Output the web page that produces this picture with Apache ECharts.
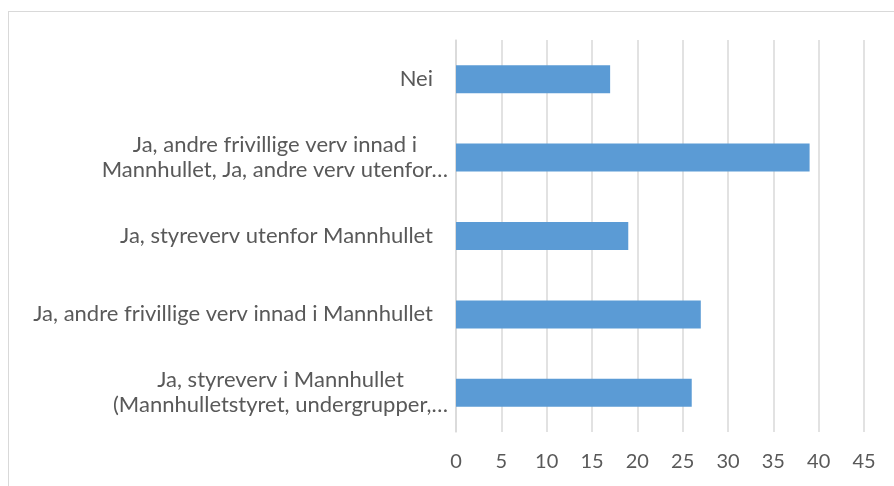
<!DOCTYPE html>
<html>
<head>
<meta charset="utf-8">
<script src="https://cdn.jsdelivr.net/npm/echarts@6/dist/echarts.min.js"></script>
<style>
  html, body { margin: 0; padding: 0; background: #fff; }
  .frame { position: absolute; left: 8px; top: 11px; width: 900px; height: 490px;
           border-top: 1px solid #d9d9d9; border-left: 1px solid #d9d9d9; }
  #chart { position: absolute; left: 0; top: 0; width: 894px; height: 486px; }
</style>
</head>
<body>
<div class="frame"></div>
<div id="chart"></div>
<script>
// categories listed bottom to top (category axis runs upward)
const categories = [
  'Ja, styreverv i Mannhullet\n(Mannhulletstyret, undergrupper,…',
  'Ja, andre frivillige verv innad i Mannhullet',
  'Ja, styreverv utenfor Mannhullet',
  'Ja, andre frivillige verv innad i\nMannhullet, Ja, andre verv utenfor…',
  'Nei'
]
const values = [26, 27, 19, 39, 17]
const xTicks = [0, 45, 5]  // min, max, interval

const chart = echarts.init(document.getElementById('chart'))
chart.setOption({
  animation: false,
  textStyle: { fontFamily: 'Lato' },
  grid: { left: 456, right: 30, top: 40, bottom: 54 },
  xAxis: {
    type: 'value',
    min: xTicks[0],
    max: xTicks[1],
    interval: xTicks[2],
    axisLine: { show: false },
    axisTick: { show: false },
    splitLine: { lineStyle: { color: '#d9d9d9', width: 1.5 } },
    axisLabel: { color: '#595959', fontSize: 20, margin: 20 }
  },
  yAxis: {
    type: 'category',
    data: categories,
    axisLine: { show: true, lineStyle: { color: '#d9d9d9', width: 1.5 } },
    axisTick: { show: false },
    axisLabel: {
      margin: 8,
      formatter: v => v.includes('…')
        ? v.split('\n').map(l => '{t|' + l + '}').join('\n')
        : '{s|' + v + '}',
      rich: {
        t: { align: 'center', color: '#595959', fontSize: 22, lineHeight: 25, fontFamily: 'Lato' },
        s: { color: '#595959', fontSize: 22, lineHeight: 25, fontFamily: 'Lato', padding: [0, 15, 0, 0] }
      }
    }
  },
  series: [{
    type: 'bar',
    data: values,
    barWidth: 28,
    itemStyle: { color: '#5b9bd5' }
  }]
})
</script>
</body>
</html>
